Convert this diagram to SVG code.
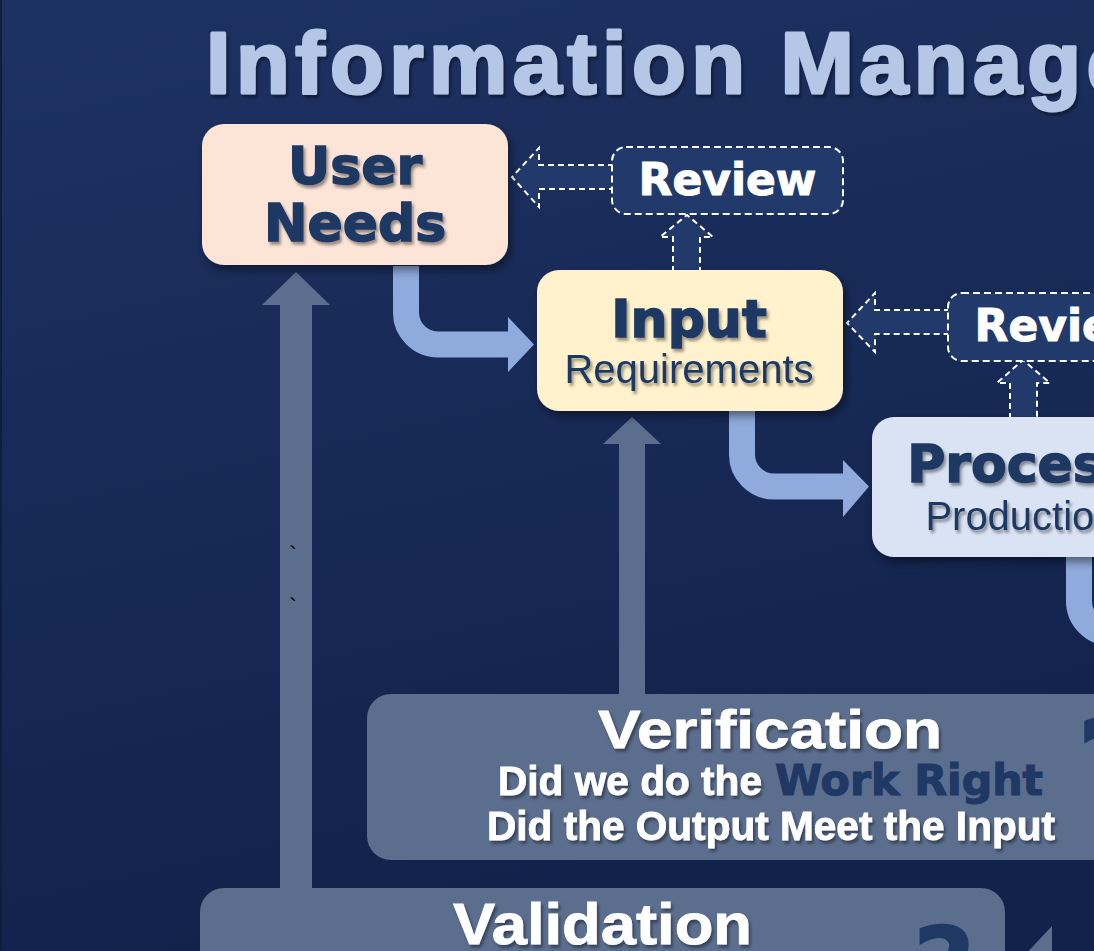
<svg xmlns="http://www.w3.org/2000/svg" width="1094" height="951" viewBox="0 0 1094 951">
<defs>
<linearGradient id="bg" x1="0" y1="0" x2="0.25" y2="1">
<stop offset="0" stop-color="#1e3262"/>
<stop offset="1" stop-color="#11224b"/>
</linearGradient>
<filter id="sh" x="-10%" y="-10%" width="130%" height="140%">
<feDropShadow dx="3" dy="5" stdDeviation="5" flood-color="#000" flood-opacity="0.45"/>
</filter>
<filter id="tsh" x="-10%" y="-20%" width="120%" height="150%">
<feDropShadow dx="2" dy="3" stdDeviation="1.5" flood-color="#000" flood-opacity="0.4"/>
</filter>
<style>
.navy{font-family:"DejaVu Sans",sans-serif;font-weight:bold;fill:#1f3864;stroke:#1f3864;stroke-width:1.5;text-anchor:middle}
.reg{font-family:"Liberation Sans",Arial,sans-serif;fill:#1f3864;text-anchor:middle}
.wb{font-family:"Liberation Sans",Arial,sans-serif;font-weight:bold;fill:#ffffff;stroke:#ffffff;stroke-width:0.8}
.title{font-family:"Liberation Sans",Arial,sans-serif;font-weight:bold;fill:#b4c7e7;stroke:#b4c7e7;stroke-width:3;stroke-linejoin:round}
.rev{font-family:"DejaVu Sans",sans-serif;font-weight:bold;fill:#ffffff;stroke:#ffffff;stroke-width:1;font-size:44px;text-anchor:middle}
.revbox{fill:#213a6b;stroke:#ffffff;stroke-width:2;stroke-dasharray:7 4}
.darr{fill:#213a6b;stroke:#ffffff;stroke-width:2;stroke-dasharray:6 4}
.blue{fill:none;stroke:#8faadc;stroke-width:26}
.bluehead{fill:#8faadc}
.gray{fill:#5b6e8e}
</style>
</defs>
<rect x="0" y="0" width="1094" height="951" fill="url(#bg)"/>
<rect x="0" y="0" width="2" height="951" fill="#0f1d40"/>

<text x="206" y="93" class="title" font-size="88" letter-spacing="5.5" filter="url(#tsh)">Information Management</text>

<g id="connectors">
<path class="blue" d="M406,266 V312 A32,32 0 0 0 438,344.5 H512"/>
<polygon class="bluehead" points="508,317 534,344.5 508,372"/>
<path class="blue" d="M742,409 V454 A32,32 0 0 0 774,486.5 H846"/>
<polygon class="bluehead" points="843,460 869,486.5 843,517"/>
<path class="blue" d="M1079,555 V601 A32,32 0 0 0 1111,633 H1180"/>
<polygon class="gray" points="280,888 280,305 262,305 296,272 330,305 312,305 312,888"/>
<polygon class="gray" points="619,694 619,444 603,444 632,417 661,444 645,444 645,694"/>
<polygon class="darr" points="614,165 539,165 539,148 512,177 539,207 539,189 614,189"/>
<polygon class="darr" points="673,272 673,237 660,237 687,215 713,237 700,237 700,272"/>
<polygon class="darr" points="950,310 875,310 875,293 847,323 875,352 875,334 950,334"/>
<polygon class="darr" points="1010,419 1010,383 997,383 1023,360 1050,383 1037,383 1037,419"/>
<polygon class="gray" points="1052,926 1052,990 1022,958"/>
</g>

<text x="289" y="563" font-family="Liberation Sans,sans-serif" font-size="24" fill="#000">`</text>
<text x="289" y="615" font-family="Liberation Sans,sans-serif" font-size="24" fill="#000">`</text>

<g id="user-needs">
<rect x="202" y="124" width="306" height="141" rx="22" fill="#fce4d6" filter="url(#sh)"/>
<text x="355" y="184" class="navy" font-size="52" filter="url(#tsh)">User</text>
<text x="355" y="241" class="navy" font-size="52" filter="url(#tsh)">Needs</text>
</g>

<g id="review-1">
<rect x="612" y="147" width="231" height="67" rx="14" class="revbox"/>
<text x="727.5" y="195" class="rev">Review</text>
</g>

<g id="input">
<rect x="537" y="270" width="306" height="141" rx="22" fill="#fff2cc" filter="url(#sh)"/>
<text x="689" y="337" class="navy" font-size="52" filter="url(#tsh)">Input</text>
<text x="689" y="383" class="reg" font-size="40" filter="url(#tsh)">Requirements</text>
</g>

<g id="review-2">
<rect x="948" y="293" width="231" height="68" rx="14" class="revbox"/>
<text x="1063.5" y="341" class="rev">Review</text>
</g>

<g id="process">
<rect x="872" y="417" width="306" height="140" rx="22" fill="#dae3f3" filter="url(#sh)"/>
<text x="1021" y="482" class="navy" font-size="52" filter="url(#tsh)">Process</text>
<text x="1021" y="530" class="reg" font-size="40" filter="url(#tsh)">Production</text>
</g>

<g id="verification">
<rect x="367" y="694" width="800" height="166" rx="24" class="gray"/>
<text x="1074" y="826" font-family="DejaVu Sans,sans-serif" font-weight="bold" font-size="150" fill="#1f3864">?</text>
<text x="598" y="748" class="wb" font-size="54" textLength="344" lengthAdjust="spacingAndGlyphs" filter="url(#tsh)">Verification</text>
<text x="498" y="795" class="wb" font-size="40" textLength="264" lengthAdjust="spacingAndGlyphs" filter="url(#tsh)">Did we do the</text>
<text x="775" y="795" font-family="DejaVu Sans,sans-serif" font-weight="bold" font-size="42" fill="#1f3864" stroke="#1f3864" stroke-width="1.2" textLength="268" lengthAdjust="spacingAndGlyphs">Work Right</text>
<text x="487" y="840" class="wb" font-size="40" textLength="568" lengthAdjust="spacingAndGlyphs" filter="url(#tsh)">Did the Output Meet the Input</text>
</g>

<g id="validation">
<rect x="200" y="888" width="805" height="120" rx="24" class="gray"/>
<text x="912" y="1006" font-family="DejaVu Sans,sans-serif" font-weight="bold" font-size="110" fill="#1f3864">?</text>
<text x="453" y="944" class="wb" font-size="58" textLength="299" lengthAdjust="spacingAndGlyphs" filter="url(#tsh)">Validation</text>
</g>
</svg>
